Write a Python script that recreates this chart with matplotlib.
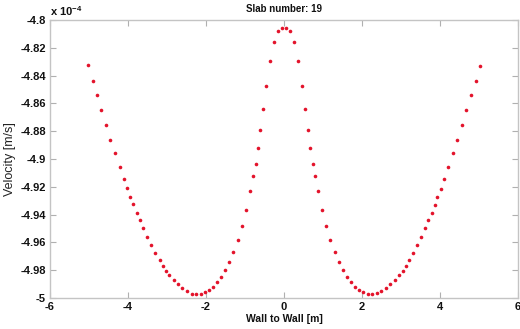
import matplotlib
matplotlib.use("Agg")
import matplotlib.pyplot as plt

plt.rcParams["font.family"] = ["Liberation Sans", "DejaVu Sans"]
plt.rcParams["mathtext.fontset"] = "custom"
plt.rcParams["mathtext.rm"] = "Liberation Sans:bold"
plt.rcParams["mathtext.bf"] = "Liberation Sans:bold"
plt.rcParams["mathtext.default"] = "bf"

# position across the slab [m]
wall_pos = [
    -5.026, -4.905, -4.795, -4.685, -4.564, -4.449, -4.333, -4.213, -4.110, -4.021,
    -3.941, -3.864, -3.777, -3.692, -3.608, -3.513, -3.405, -3.300, -3.192, -3.108,
    -3.021, -2.936, -2.833, -2.723, -2.610, -2.492, -2.367, -2.249, -2.128, -2.018,
    -1.915, -1.813, -1.710, -1.608, -1.505, -1.403, -1.300, -1.179, -1.077, -0.969,
    -0.872, -0.795, -0.726, -0.674, -0.610, -0.538, -0.449, -0.351, -0.249, -0.154,
    -0.051,
    0.044, 0.146, 0.256, 0.351, 0.454, 0.538, 0.608, 0.674, 0.744, 0.795,
    0.872, 0.974, 1.077, 1.179, 1.300, 1.403, 1.505, 1.608, 1.718, 1.821,
    1.923, 2.033, 2.146, 2.264, 2.377, 2.495, 2.608, 2.726, 2.838, 2.949,
    3.044, 3.121, 3.205, 3.300, 3.410, 3.513, 3.608, 3.700, 3.787, 3.872,
    3.931, 4.018, 4.110, 4.205, 4.333, 4.444, 4.564, 4.674, 4.795, 4.915,
    5.026,
]

# velocity in units of 1e-4 m/s
velocity = [
    -4.8327, -4.8439, -4.8541, -4.8649, -4.8757, -4.8861, -4.8959, -4.9058, -4.9142, -4.9212,
    -4.9272, -4.9327, -4.9386, -4.9441, -4.9499, -4.9563, -4.9620, -4.9676, -4.9728, -4.9770,
    -4.9804, -4.9836, -4.9869, -4.9901, -4.9929, -4.9953, -4.9969, -4.9971, -4.9969, -4.9959,
    -4.9940, -4.9919, -4.9887, -4.9849, -4.9801, -4.9741, -4.9671, -4.9585, -4.9484, -4.9367,
    -4.9230, -4.9119, -4.9036, -4.8922, -4.8793, -4.8640, -4.8475, -4.8295, -4.8156, -4.8079,
    -4.8058,
    -4.8058, -4.8079, -4.8156, -4.8295, -4.8475, -4.8642, -4.8794, -4.8923, -4.9038, -4.9120,
    -4.9232, -4.9367, -4.9484, -4.9585, -4.9669, -4.9741, -4.9801, -4.9849, -4.9887, -4.9919,
    -4.9942, -4.9959, -4.9971, -4.9971, -4.9966, -4.9952, -4.9930, -4.9901, -4.9873, -4.9837,
    -4.9804, -4.9770, -4.9729, -4.9676, -4.9621, -4.9563, -4.9499, -4.9441, -4.9385, -4.9329,
    -4.9273, -4.9214, -4.9146, -4.9055, -4.8959, -4.8861, -4.8758, -4.8650, -4.8542, -4.8439,
    -4.8329,
]

x_ticks = [-6, -4, -2, 0, 2, 4, 6]
y_ticks = [-5, -4.98, -4.96, -4.94, -4.92, -4.9, -4.88, -4.86, -4.84, -4.82, -4.8]

fig = plt.figure(figsize=(5.2, 3.29), dpi=100)
ax = fig.add_axes([50 / 520, 31 / 329, 468 / 520, 278 / 329])

ax.plot(wall_pos, velocity, linestyle="none", marker="o", markersize=2.6,
        markeredgewidth=0, color="#e3132b")

ax.set_xlim(-6, 6)
ax.set_ylim(-5, -4.8)
ax.set_xticks(x_ticks)
ax.set_yticks(y_ticks)
ax.set_xticklabels(["%g" % t for t in x_ticks])
ax.set_yticklabels(["%g" % t for t in y_ticks])

for s in ax.spines.values():
    s.set_color("#c4c4c4")
    s.set_linewidth(1.0)
ax.tick_params(direction="in", length=4, width=0.8, color="#b0b0b0",
               top=True, right=True, labelsize=8, pad=3, labelcolor="#111111")
for lab in ax.get_xticklabels() + ax.get_yticklabels():
    lab.set_fontweight("bold")

ax.set_title("Slab number: 19", fontsize=7, fontweight="bold", pad=6, color="#111111")
ax.set_xlabel("Wall to Wall [m]", fontsize=7.5, fontweight="bold", labelpad=1, color="#111111")
ax.set_ylabel("Velocity [m/s]", fontsize=9, labelpad=3, color="#222222")
ax.text(0.0, 1.008, r"x 10$^{-4}$", transform=ax.transAxes, ha="left", va="bottom",
        fontsize=8, fontweight="bold", color="#111111")

fig.savefig("out.png", dpi=100)
